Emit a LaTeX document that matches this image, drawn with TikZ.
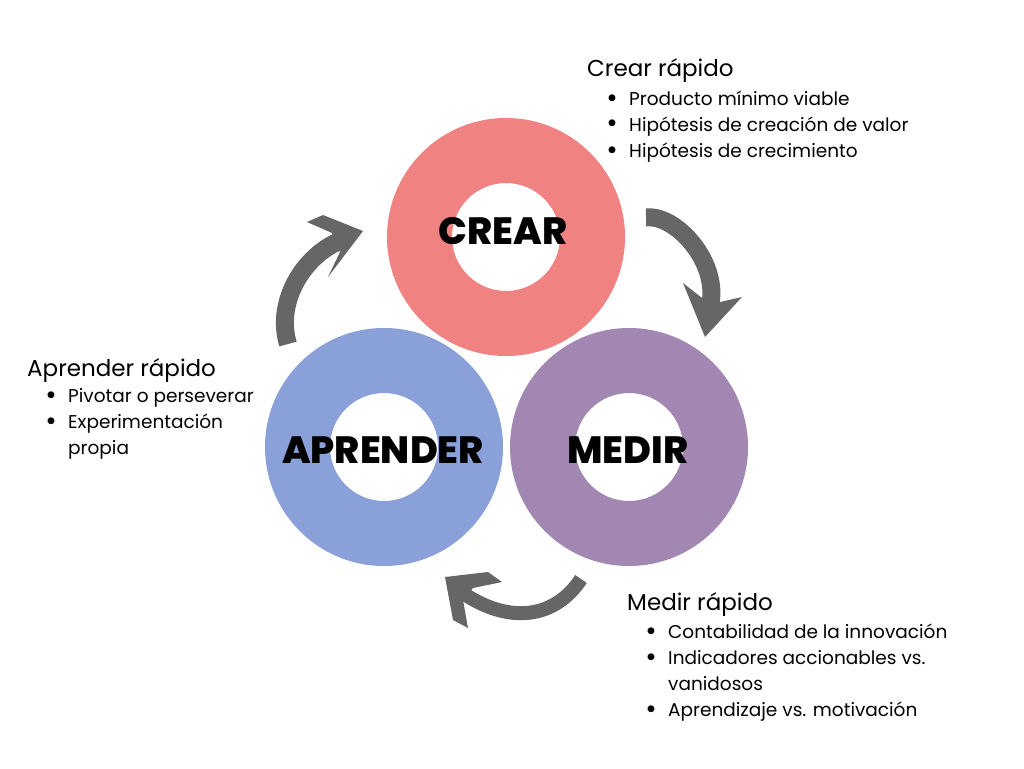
\documentclass[tikz,border=0pt]{standalone}
\usepackage{fontspec}
\setmainfont{Poppins}
\newfontfamily\labelfont{Poppins ExtraBold}
\definecolor{ringCrear}{RGB}{240,130,130}
\definecolor{ringAprender}{RGB}{137,160,216}
\definecolor{ringMedir}{RGB}{161,135,177}
\definecolor{arrowGray}{RGB}{102,102,102}
\def\bl{\makebox[34pt]{\raisebox{-2pt}{\scalebox{1.5}{•}}}}

\begin{document}
\begin{tikzpicture}[x=1pt, y=-1pt]

% styles
\tikzstyle{bigLabel}=[inner sep=0pt, anchor=base, font=\fontsize{38}{38}\labelfont]
\tikzstyle{titleText}=[inner sep=0pt, anchor=base west, font=\fontsize{23}{23}\selectfont]
\tikzstyle{itemText}=[inner sep=0pt, anchor=base west, font=\fontsize{18.5}{26}\selectfont]
\tikzstyle{shaft}=[line width=18pt, draw=arrowGray]
\tikzstyle{shaftThin}=[line width=14pt, draw=arrowGray]
\tikzstyle{head}=[fill=arrowGray]

\fill[white] (0,0) rectangle (1024,768);
\useasboundingbox (0,0) rectangle (1024,768);

% anillos
\coordinate (cCrear) at (506,237);
\coordinate (cAprender) at (384,447);
\coordinate (cMedir) at (629,447);

\fill[ringCrear, even odd rule] (cCrear) circle[radius=119pt] (cCrear) circle[radius=54pt];
\fill[ringAprender, even odd rule] (cAprender) circle[radius=119pt] (cAprender) circle[radius=54pt];
\fill[ringMedir, even odd rule] (cMedir) circle[radius=119pt] (cMedir) circle[radius=54pt];

\node[bigLabel] (lCrear) at (503,244) {CREAR};
\node[bigLabel] (lAprender) at (383,463) {APRENDER};
\node[bigLabel] (lMedir) at (628,463) {MEDIR};

% flechas
\coordinate (tailA) at (288,344);
\coordinate (endA) at (338,241.6);
\coordinate (tailB) at (646,217.5);
\coordinate (endB) at (710.7,302);
\coordinate (tailC) at (581,579);
\coordinate (endC) at (465,594.5);

\draw[shaft] (tailA) .. controls (276,305) and (300,259) .. (endA);
\fill[head] (323,215) -- (363,231) -- (328,277) -- (340,252) -- (332,233) -- (307,222) -- cycle;

\draw[shaft] (tailB) .. controls (675,214) and (717.4,260) .. (endB);
\fill[head] (683,283) -- (702,298) -- (720,302) -- (742,297) -- (705,337) -- cycle;

\draw[shaftThin] (tailC) .. controls (556,617) and (512,625) .. (endC);
\fill[head] (445,577) -- (488,572) -- (502,582) -- (473,588) -- (463,600) -- (468,628) -- (453,620) -- cycle;

% textos
\node[titleText] (tCrear) at (587,77) {Crear rápido};
\node[itemText] (iCrear) at (595,105) {\begin{tabular}[t]{@{}l@{}l@{}}
\bl & Producto mínimo viable\\
\bl & Hipótesis de creación de valor\\
\bl & Hipótesis de crecimiento
\end{tabular}};

\node[titleText] (tAprender) at (27,376) {Aprender rápido};
\node[itemText] (iAprender) at (34,402) {\begin{tabular}[t]{@{}l@{}l@{}}
\bl & Pivotar o perseverar\\
\bl & Experimentación\\
    & propia
\end{tabular}};

\node[titleText] (tMedir) at (627,610) {Medir rápido};
\node[itemText] (iMedir) at (634,638) {\begin{tabular}[t]{@{}l@{}l@{}}
\bl & Contabilidad de la innovación\\
\bl & Indicadores accionables vs.\\
    & vanidosos\\
\bl & Aprendizaje vs. motivación
\end{tabular}};

\end{tikzpicture}
\end{document}
